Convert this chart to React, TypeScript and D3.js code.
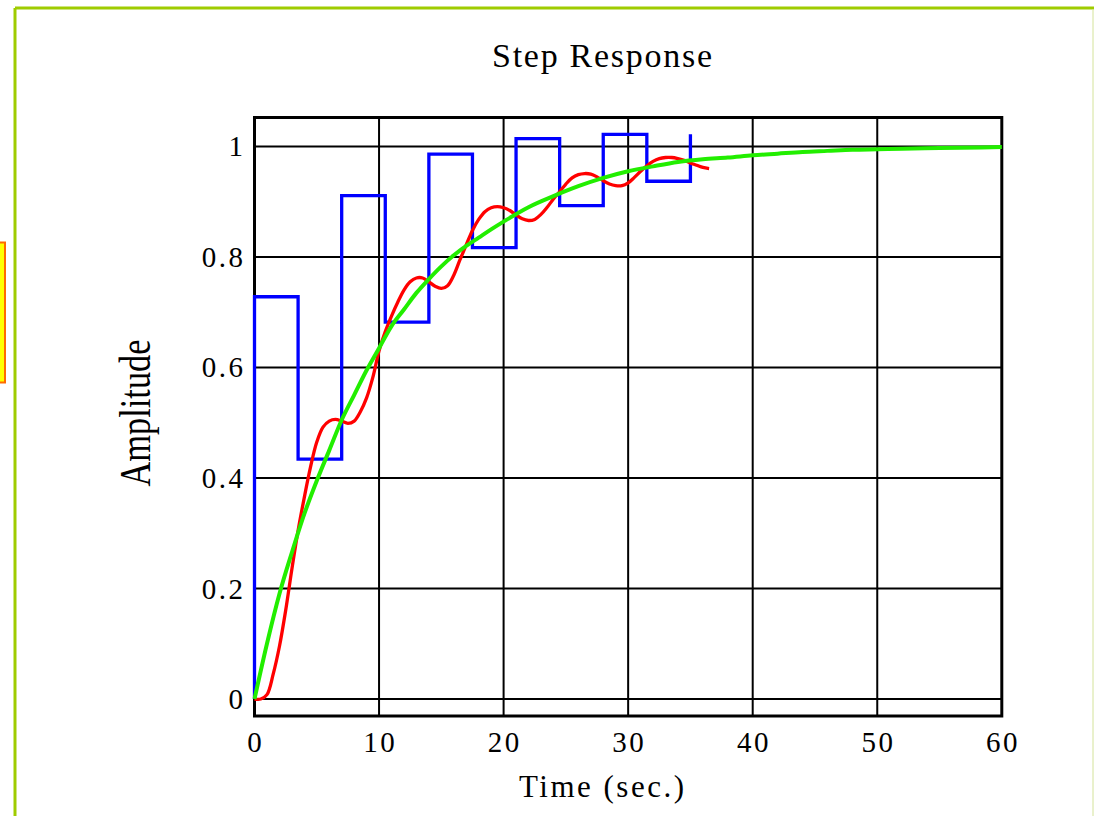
import React from 'react';
import * as d3 from 'd3';

// sampled (zero-order hold) response, sample period 3.5 s
const sampleTime = [0, 0, 3.5, 7, 10.5, 14, 17.5, 21, 24.5, 28, 31.5, 35];
const sampleAmp = [0, 0.728, 0.434, 0.911, 0.682, 0.986, 0.817, 1.014, 0.893, 1.022, 0.937, 1.022];

// continuous response (red)
const redTime = [
    0, 0.5, 1, 1.5, 2, 2.5, 3, 3.5, 4, 4.5, 5, 5.5, 6, 6.5, 7, 7.5, 8, 8.5, 9, 9.5,
    10, 10.5, 11, 11.5, 12, 12.5, 13, 13.5, 14, 14.5, 15, 15.5, 16, 16.5, 17, 17.5, 18, 18.5, 19, 19.5,
    20, 20.5, 21, 21.5, 22, 22.5, 23, 23.5, 24, 24.5, 25, 25.5, 26, 26.5, 27, 27.5, 28, 28.5, 29, 29.5,
    30, 30.5, 31, 31.5, 32, 32.5, 33, 33.5, 34, 34.5, 35, 35.5, 36, 36.5
];
const redAmp = [
    0, 0, 0.008, 0.045, 0.095, 0.16, 0.235, 0.305, 0.365, 0.42, 0.465, 0.492, 0.503, 0.506, 0.503, 0.499, 0.503, 0.52, 0.545, 0.582,
    0.63, 0.665, 0.693, 0.718, 0.74, 0.755, 0.762, 0.762, 0.755, 0.747, 0.743, 0.748, 0.767, 0.795, 0.822, 0.848, 0.868, 0.882, 0.889, 0.891,
    0.889, 0.884, 0.876, 0.869, 0.866, 0.868, 0.877, 0.89, 0.905, 0.918, 0.932, 0.943, 0.949, 0.951, 0.95, 0.945, 0.938, 0.932, 0.929, 0.929,
    0.934, 0.944, 0.955, 0.965, 0.973, 0.978, 0.98, 0.98, 0.978, 0.975, 0.97, 0.966, 0.962, 0.96
];

// approximating first-order response (green)
const greenTime = [0, 1, 2, 3, 4, 5, 6, 7, 8, 9, 10, 11, 12, 13, 14, 15, 16, 17, 18, 19, 20, 22, 24, 26, 28, 30, 32, 34, 36, 38, 40, 42, 44, 46, 48, 50, 52, 55, 60];
const greenAmp = [0, 0.1, 0.19, 0.265, 0.335, 0.395, 0.45, 0.505, 0.55, 0.595, 0.635, 0.675, 0.705, 0.735, 0.76, 0.783, 0.803, 0.82, 0.835, 0.85, 0.864, 0.89, 0.91, 0.928, 0.943, 0.955, 0.964, 0.972, 0.977, 0.98, 0.984, 0.987, 0.99, 0.992, 0.994, 0.995, 0.996, 0.997, 0.999];

const xTicks = [0, 10, 20, 30, 40, 50, 60];
const yTicks = [0, 0.2, 0.4, 0.6, 0.8, 1];
const yTickLabels = ['0', '0.2', '0.4', '0.6', '0.8', '1'];

const W = 1094, H = 816;
const frame = { left: 254.5, right: 1001.8, top: 117.5, bottom: 716 };
const serif = '"Liberation Serif", "Times New Roman", serif';

export default function App() {
    const x = d3.scaleLinear().domain([0, 60]).range([frame.left, frame.right]);
    const y = d3.scaleLinear().domain([-0.0307, 1.0524]).range([frame.bottom, frame.top]);

    const stepLine = d3.line<number>()
        .x(i => x(sampleTime[i]))
        .y(i => y(sampleAmp[i]))
        .curve(d3.curveStepAfter);
    const redLine = d3.line<number>()
        .x(i => x(redTime[i]))
        .y(i => y(redAmp[i]))
        .curve(d3.curveCatmullRom);
    const greenLine = d3.line<number>()
        .x(i => x(greenTime[i]))
        .y(i => y(greenAmp[i]))
        .curve(d3.curveMonotoneX);

    return (
        <div style={{ position: 'absolute', left: 0, top: 0 }}>
            <svg width={W} height={H} style={{ display: 'block' }}>
                <rect x={0} y={0} width={W} height={H} fill="#fff" />
                {/* page frame */}
                <line x1={15} y1={8} x2={1094} y2={8} stroke="#9fcc00" strokeWidth={3} />
                <line x1={15} y1={8} x2={15} y2={816} stroke="#9fcc00" strokeWidth={3} />
                <line x1={1093} y1={9} x2={1093} y2={816} stroke="#d4e39a" strokeWidth={1} />
                <rect x={-3} y={242.5} width={8} height={140} fill="#ffff00" stroke="#ff6a00" strokeWidth={2} />

                <text x={602} y={67} textAnchor="middle" fontFamily={serif} fontSize={34}
                    textLength={220} lengthAdjust="spacing">Step Response</text>

                {/* grid */}
                <g stroke="#000" strokeWidth={2}>
                    {xTicks.slice(1, -1).map(t => (
                        <line key={'gx' + t} x1={x(t)} x2={x(t)} y1={frame.top} y2={frame.bottom} />
                    ))}
                    {yTicks.map(t => (
                        <line key={'gy' + t} x1={frame.left} x2={frame.right} y1={y(t)} y2={y(t)} />
                    ))}
                </g>
                <rect x={frame.left} y={frame.top} width={frame.right - frame.left} height={frame.bottom - frame.top}
                    fill="none" stroke="#000" strokeWidth={3} />

                {/* curves */}
                <path d={stepLine(d3.range(sampleTime.length)) || ''} fill="none" stroke="#0000ff" strokeWidth={3.3} strokeLinejoin="miter" />
                <path d={redLine(d3.range(redTime.length)) || ''} fill="none" stroke="#ff0000" strokeWidth={3.3} strokeLinejoin="round" />
                <path d={greenLine(d3.range(greenTime.length)) || ''} fill="none" stroke="#22ee00" strokeWidth={4} strokeLinejoin="round" />

                {/* tick labels */}
                <g fontFamily={serif} fontSize={29} fill="#000" letterSpacing={2.5}>
                    {yTicks.map((t, i) => (
                        <text key={'yl' + t} x={245.5} y={y(t) + 10} textAnchor="end">{yTickLabels[i]}</text>
                    ))}
                    {xTicks.map(t => (
                        <text key={'xl' + t} x={x(t) + 1.2} y={752} textAnchor="middle">{t}</text>
                    ))}
                </g>

                <text x={601.5} y={797} textAnchor="middle" fontFamily={serif} fontSize={31}
                    textLength={165} lengthAdjust="spacing">Time (sec.)</text>
                <text transform="translate(150,413) rotate(-90)" textAnchor="middle" fontFamily={serif}
                    fontSize={44} textLength={147} lengthAdjust="spacingAndGlyphs">Amplitude</text>
            </svg>
        </div>
    );
}
